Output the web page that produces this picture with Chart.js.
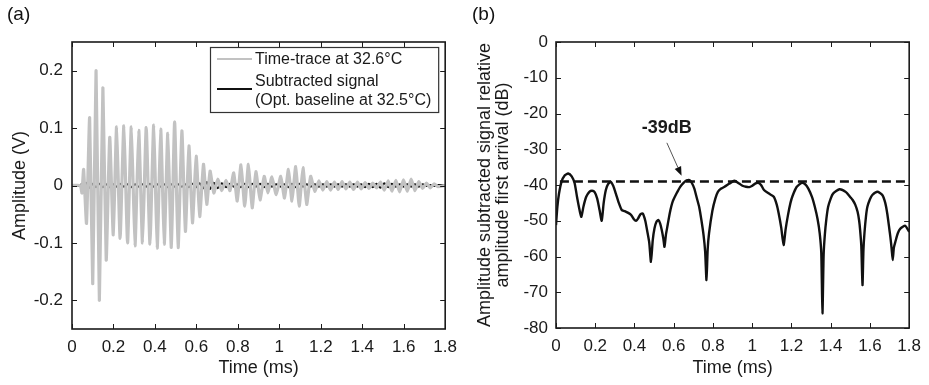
<!DOCTYPE html>
<html>
<head>
<meta charset="utf-8">
<script src="https://cdn.jsdelivr.net/npm/chart.js@4.4.1/dist/chart.umd.min.js"></script>
<style>
  html, body { margin: 0; padding: 0; background: #fff; }
  body { width: 929px; height: 385px; position: relative; overflow: hidden;
         font-family: "Liberation Sans", Arial, sans-serif; }
  .panel { position: absolute; top: 0; height: 385px; }
  #wrapA { left: 0; width: 465px; }
  #wrapB { left: 465px; width: 464px; }
  .tag { position: absolute; top: 3px; font-size: 19px; color: #111; }
</style>
</head>
<body>
<div class="panel" id="wrapA"><canvas id="chartA" width="465" height="385"></canvas></div>
<div class="panel" id="wrapB"><canvas id="chartB" width="464" height="385"></canvas></div>
<div class="tag" style="left:7px">(a)</div>
<div class="tag" style="left:472px">(b)</div>
<script>
// ---- Panel (a): time traces (time in ms, amplitude in V) ----
const traceTimes = [
  0, 0.040, 0.048, 0.056, 0.070, 0.085, 0.100, 0.116, 0.132, 0.149,
  0.165, 0.182, 0.199, 0.215, 0.232, 0.250, 0.268, 0.286, 0.304, 0.322,
  0.340, 0.358, 0.376, 0.394, 0.411, 0.428, 0.445, 0.462, 0.479, 0.495,
  0.512, 0.530, 0.547, 0.564, 0.581, 0.599, 0.616, 0.634, 0.650, 0.666,
  0.684, 0.703, 0.722, 0.743, 0.762, 0.780, 0.797, 0.815, 0.833, 0.851,
  0.869, 0.887, 0.907, 0.927, 0.945, 0.964, 0.985, 1.007, 1.025, 1.044,
  1.061, 1.079, 1.096, 1.114, 1.132, 1.151, 1.171, 1.191, 1.210, 1.229,
  1.247, 1.266, 1.284, 1.303, 1.321, 1.340, 1.358, 1.377, 1.395, 1.414,
  1.432, 1.451, 1.469, 1.488, 1.506, 1.525, 1.543, 1.562, 1.580, 1.599,
  1.617, 1.636, 1.654, 1.673, 1.691, 1.710, 1.728, 1.747, 1.765, 1.800
];
const timeTrace326 = [
  0, 0, -0.013, 0.028, -0.066, 0.118, -0.171, 0.200, -0.200, 0.170,
  -0.130, 0.084, -0.086, 0.102, -0.092, 0.104, -0.100, 0.102, -0.105, 0.096,
  -0.100, 0.101, -0.102, 0.105, -0.109, 0.098, -0.102, 0.091, -0.108, 0.111,
  -0.108, 0.095, -0.080, 0.069, -0.065, 0.051, -0.054, 0.037, -0.033, 0.025,
  -0.013, 0.011, -0.009, 0.009, -0.009, 0.022, -0.027, 0.036, -0.036, 0.037,
  -0.039, 0.024, -0.025, 0.016, -0.013, 0.015, -0.016, 0.016, -0.022, 0.028,
  -0.027, 0.033, -0.036, 0.031, -0.033, 0.016, -0.010, 0.008, -0.008, 0.007,
  -0.008, 0.006, -0.007, 0.007, -0.006, 0.006, -0.007, 0.006, -0.006, 0.005,
  -0.005, 0.004, -0.004, 0.006, -0.008, 0.008, -0.010, 0.009, -0.011, 0.010,
  -0.010, 0.011, -0.009, 0.007, -0.005, 0.004, -0.004, 0.003, -0.002, 0
];
const subtractedSignal = [
  0, 0, 0.003, -0.005, 0.005, -0.004, 0.003, -0.003, 0.003, -0.003,
  0.002, -0.003, 0.002, -0.002, 0.003, -0.002, 0.002, -0.003, 0.002, -0.002,
  0.002, -0.002, 0.003, -0.002, 0.002, -0.002, 0.002, -0.003, 0.002, -0.002,
  0.002, -0.002, 0.002, -0.003, 0.003, -0.003, 0.004, -0.005, 0.006, -0.006,
  0.005, -0.005, 0.004, -0.003, 0.003, -0.002, 0.002, -0.003, 0.003, -0.003,
  0.003, -0.002, 0.003, -0.003, 0.003, -0.002, 0.002, -0.002, 0.002, -0.003,
  0.003, -0.003, 0.003, -0.002, 0.002, -0.002, 0.002, -0.002, 0.002, -0.002,
  0.002, -0.002, 0.002, -0.002, 0.002, -0.002, 0.002, -0.002, 0.002, -0.003,
  0.003, -0.003, 0.003, -0.004, 0.004, -0.003, 0.003, -0.002, 0.002, -0.002,
  0.002, -0.002, 0.002, -0.002, 0.002, -0.001, 0.001, -0.001, 0.001, 0
];
const timeTicks = [0, 0.2, 0.4, 0.6, 0.8, 1.0, 1.2, 1.4, 1.6, 1.8];
const amplitudeTicks = [-0.2, -0.1, 0, 0.1, 0.2];
const legendLabels = ['Time-trace at 32.6\u00b0C', 'Subtracted signal', '(Opt. baseline at 32.5\u00b0C)'];

// ---- Panel (b): subtracted amplitude relative to first arrival (dB) ----
const dbTimes = [
  0, 0.007, 0.015, 0.028, 0.045, 0.062, 0.080, 0.095, 0.107, 0.120,
  0.129, 0.140, 0.154, 0.170, 0.184, 0.197, 0.210, 0.222, 0.233, 0.243,
  0.254, 0.266, 0.279, 0.292, 0.305, 0.320, 0.335, 0.350, 0.368, 0.383,
  0.397, 0.408, 0.418, 0.430, 0.442, 0.455, 0.464, 0.475, 0.484, 0.493,
  0.502, 0.512, 0.522, 0.531, 0.539, 0.547, 0.553, 0.560, 0.569, 0.580,
  0.595, 0.614, 0.633, 0.650, 0.666, 0.680, 0.691, 0.705, 0.716, 0.730,
  0.741, 0.752, 0.760, 0.767, 0.773, 0.780, 0.797, 0.812, 0.825, 0.842,
  0.859, 0.884, 0.909, 0.934, 0.950, 0.968, 0.985, 0.998, 1.015, 1.031,
  1.045, 1.060, 1.085, 1.110, 1.125, 1.135, 1.148, 1.160, 1.170, 1.182,
  1.195, 1.206, 1.227, 1.252, 1.270, 1.286, 1.305, 1.319, 1.333, 1.344,
  1.352, 1.358, 1.364, 1.370, 1.378, 1.387, 1.400, 1.412, 1.445, 1.478,
  1.500, 1.512, 1.525, 1.537, 1.545, 1.550, 1.556, 1.562, 1.567, 1.572,
  1.580, 1.587, 1.600, 1.612, 1.638, 1.663, 1.678, 1.688, 1.697, 1.704,
  1.710, 1.716, 1.722, 1.730, 1.742, 1.755, 1.780, 1.800
];
const relativeDb = [
  -51.2, -46.1, -42.5, -39.1, -37.3, -36.8, -37.6, -39.5, -43.3, -47.0,
  -48.9, -46.0, -43.3, -41.9, -41.6, -42.0, -43.8, -47.0, -50.0, -45.0,
  -41.4, -39.7, -39.1, -40.3, -42.4, -45.0, -47.0, -47.3, -47.8, -48.4,
  -49.6, -50.0, -49.4, -48.2, -48.0, -50.0, -52.6, -56.0, -61.5, -55.5,
  -52.1, -50.3, -49.8, -50.8, -52.6, -55.0, -57.3, -54.0, -51.2, -47.8,
  -44.6, -42.4, -40.5, -39.4, -38.7, -38.6, -39.3, -41.0, -43.3, -46.2,
  -49.8, -54.0, -58.5, -66.6, -58.0, -53.5, -47.2, -43.8, -41.9, -41.0,
  -40.5, -39.6, -38.8, -39.6, -40.2, -40.5, -40.6, -40.3, -39.6, -39.4,
  -40.0, -41.4, -42.4, -43.3, -45.5, -48.0, -52.0, -56.8, -52.5, -48.5,
  -45.0, -43.0, -40.5, -39.4, -39.8, -41.0, -43.4, -46.1, -49.5, -53.5,
  -59.0, -75.9, -59.5, -54.0, -49.5, -46.1, -43.8, -42.4, -41.2, -42.0,
  -43.4, -44.2, -45.5, -47.5, -50.0, -52.6, -57.0, -68.0, -58.0, -53.5,
  -48.7, -46.1, -44.0, -42.8, -41.9, -42.8, -45.0, -47.9, -51.5, -54.5,
  -57.5, -61.0, -57.5, -55.8, -53.5, -52.2, -51.4, -53.1
];
const thresholdDb = -39;
const thresholdSpan = [0.02, 1.8];
const dbTicks = [0, -10, -20, -30, -40, -50, -60, -70, -80];

const FONT = '"Liberation Sans", Arial, Helvetica, sans-serif';
const INK = '#1a1a1a';

function pairs(xs, ys) { return xs.map((x, i) => ({ x: x, y: ys[i] })); }
function fmt(v) { return String(Math.round(v * 10) / 10); }

// box round the plot area with inward tick marks on all four sides
const frameTicks = {
  id: 'frameTicks',
  afterDatasetsDraw(chart) {
    const { ctx, chartArea: a, scales } = chart;
    const x = scales.x, y = scales.y, len = 5;
    ctx.save();
    ctx.strokeStyle = INK;
    ctx.lineWidth = 1;
    ctx.beginPath();
    x.ticks.forEach(t => {
      const px = Math.round(x.getPixelForValue(t.value)) + 0.5;
      ctx.moveTo(px, a.bottom); ctx.lineTo(px, a.bottom - len);
      ctx.moveTo(px, a.top); ctx.lineTo(px, a.top + len);
    });
    y.ticks.forEach(t => {
      const py = Math.round(y.getPixelForValue(t.value)) + 0.5;
      ctx.moveTo(a.left, py); ctx.lineTo(a.left + len, py);
      ctx.moveTo(a.right, py); ctx.lineTo(a.right - len, py);
    });
    ctx.stroke();
    ctx.lineWidth = 1.6;
    ctx.strokeRect(a.left, a.top, a.right - a.left, a.bottom - a.top);
    ctx.restore();
  }
};

function axes(opts) {
  return {
    x: {
      type: 'linear', min: 0, max: 1.8,
      afterFit: s => { s.height = opts.xHeight; },
      afterBuildTicks: s => { s.ticks = timeTicks.map(v => ({ value: v })); },
      grid: { display: false, drawTicks: false },
      border: { display: false },
      ticks: { padding: 8, color: INK, font: { family: FONT, size: 17 }, callback: v => fmt(v), maxRotation: 0, autoSkip: false },
      title: { display: true, text: 'Time (ms)', color: INK, font: { family: FONT, size: 18, lineHeight: 1.2 }, padding: { top: 0, bottom: 6 } }
    },
    y: {
      type: 'linear', min: opts.yMin, max: opts.yMax,
      afterFit: s => { s.width = opts.yWidth; },
      afterBuildTicks: s => { s.ticks = opts.yTicks.map(v => ({ value: v })); },
      grid: { display: false, drawTicks: false },
      border: { display: false },
      ticks: { padding: opts.yPad, color: INK, font: { family: FONT, size: 17 }, callback: v => String(v), autoSkip: false },
      title: { display: true, text: opts.yTitle, color: INK, font: { family: FONT, size: 18, lineHeight: opts.yTitleLH }, padding: { top: opts.yTitlePad, bottom: 0 } }
    }
  };
}

// legend of panel (a), drawn inside the top-right corner of the plot box
const traceLegend = {
  id: 'traceLegend',
  afterDraw(chart) {
    const { ctx, chartArea: a } = chart;
    const ds = chart.data.datasets;
    const bx = a.left + 138, by = a.top + 5, bw = a.right - 7 - bx, bh = 65;
    ctx.save();
    ctx.fillStyle = '#fff';
    ctx.fillRect(bx, by, bw, bh);
    ctx.strokeStyle = '#333';
    ctx.lineWidth = 1.2;
    ctx.strokeRect(bx + 0.5, by + 0.5, bw, bh);
    ctx.lineWidth = 2;
    ctx.strokeStyle = ds[0].borderColor;
    ctx.beginPath(); ctx.moveTo(bx + 7, by + 12); ctx.lineTo(bx + 42, by + 12); ctx.stroke();
    ctx.lineWidth = 2;
    ctx.strokeStyle = ds[1].borderColor;
    ctx.beginPath(); ctx.moveTo(bx + 7, by + 42); ctx.lineTo(bx + 42, by + 42); ctx.stroke();
    ctx.fillStyle = INK;
    ctx.font = '16px ' + FONT;
    ctx.textBaseline = 'middle';
    ctx.fillText(legendLabels[0], bx + 45, by + 13);
    ctx.fillText(legendLabels[1], bx + 45, by + 35);
    ctx.fillText(legendLabels[2], bx + 45, by + 54);
    ctx.restore();
  }
};

new Chart(document.getElementById('chartA'), {
  type: 'line',
  data: {
    datasets: [
      { data: pairs(traceTimes, timeTrace326), borderColor: '#c2c2c2', borderWidth: 3.2, pointRadius: 0, tension: 0.15, fill: false },
      { data: pairs(traceTimes, subtractedSignal), borderColor: '#111', borderWidth: 2, pointRadius: 0, tension: 0.3, fill: false }
    ]
  },
  options: {
    responsive: false, animation: false, events: [],
    layout: { padding: { left: 0, top: 42, right: 18, bottom: 0 } },
    plugins: { legend: { display: false }, tooltip: { enabled: false } },
    scales: axes({ xHeight: 56, yWidth: 72, yMin: -0.25, yMax: 0.25, yTicks: amplitudeTicks, yPad: 9,
                   yTitle: 'Amplitude (V)', yTitleLH: 1.2, yTitlePad: 9 })
  },
  plugins: [frameTicks, traceLegend]
});

// "-39dB" call-out with its arrow, placed in data units of panel (b)
const callout = { text: { x: 0.565, y: -24.2 }, from: { x: 0.565, y: -28.2 }, to: { x: 0.640, y: -37.4 } };
const dbCallout = {
  id: 'dbCallout',
  afterDraw(chart) {
    const { ctx, scales: { x, y } } = chart;
    const tx = x.getPixelForValue(callout.text.x), ty = y.getPixelForValue(callout.text.y);
    const x0 = x.getPixelForValue(callout.from.x), y0 = y.getPixelForValue(callout.from.y);
    const x1 = x.getPixelForValue(callout.to.x), y1 = y.getPixelForValue(callout.to.y);
    ctx.save();
    ctx.fillStyle = INK;
    ctx.font = 'bold 18px ' + FONT;
    ctx.textAlign = 'center';
    ctx.textBaseline = 'middle';
    ctx.fillText(thresholdDb + 'dB', tx, ty);
    const ang = Math.atan2(y1 - y0, x1 - x0), hl = 9, hw = 3.5;
    const bxp = x1 - hl * Math.cos(ang), byp = y1 - hl * Math.sin(ang);
    ctx.strokeStyle = '#555';
    ctx.lineWidth = 1;
    ctx.beginPath(); ctx.moveTo(x0, y0); ctx.lineTo(bxp, byp); ctx.stroke();
    ctx.fillStyle = '#111';
    ctx.beginPath();
    ctx.moveTo(x1, y1);
    ctx.lineTo(bxp - hw * Math.sin(ang), byp + hw * Math.cos(ang));
    ctx.lineTo(bxp + hw * Math.sin(ang), byp - hw * Math.cos(ang));
    ctx.closePath(); ctx.fill();
    ctx.restore();
  }
};

new Chart(document.getElementById('chartB'), {
  type: 'line',
  data: {
    datasets: [
      { data: pairs(thresholdSpan, thresholdSpan.map(() => thresholdDb)), borderColor: '#111', borderWidth: 2.6, borderDash: [9, 5], pointRadius: 0, fill: false },
      { data: pairs(dbTimes, relativeDb), borderColor: '#111', borderWidth: 2.4, pointRadius: 0, tension: 0.2, fill: false }
    ]
  },
  options: {
    responsive: false, animation: false, events: [],
    layout: { padding: { left: 0, top: 42, right: 15, bottom: 0 } },
    plugins: { legend: { display: false }, tooltip: { enabled: false } },
    scales: axes({ xHeight: 57, yWidth: 91, yMin: -80, yMax: 0, yTicks: dbTicks, yPad: 8,
                   yTitle: ['Amplitude subtracted signal relative', 'amplitude first arrival (dB)'], yTitleLH: 1.0, yTitlePad: 11 })
  },
  plugins: [frameTicks, dbCallout]
});
</script>
</body>
</html>
